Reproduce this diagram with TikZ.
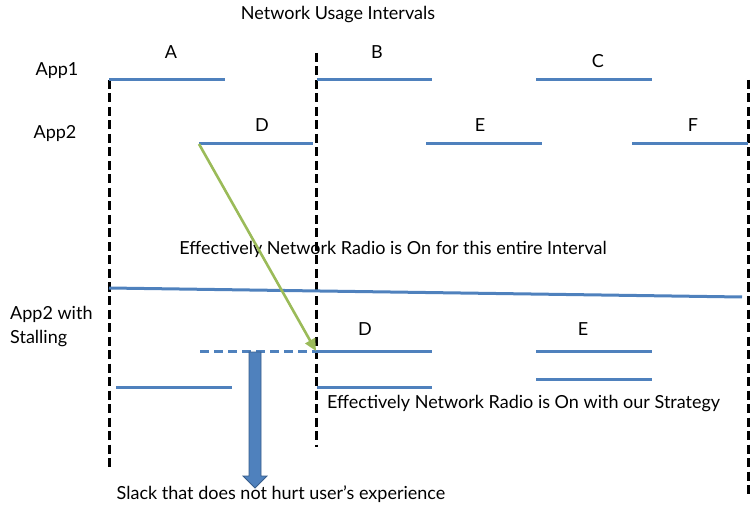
\documentclass[tikz,border=0pt]{standalone}
\usepackage{fontspec}
\setmainfont{Lato}
\usetikzlibrary{arrows.meta}
\definecolor{intblue}{HTML}{4F81BD}
\definecolor{intgreen}{HTML}{9BBB59}
\definecolor{arrowedge}{HTML}{385D8A}
\tikzset{
  interval/.style={draw=intblue, line width=3pt},
  divider/.style={draw=black, line width=3pt, dash pattern=on 9pt off 4.5pt},
  lbl/.style={font=\fontsize{18}{24}\selectfont, inner sep=0pt},
}
\begin{document}
\begin{tikzpicture}[x=1pt,y=-1pt]
\useasboundingbox (0,0) rectangle (750,505);

% titles and row names
\node[lbl] (title) at (338,15) {Network Usage Intervals};
\node[lbl] (app1) at (57,71) {App1};
\node[lbl] (app2) at (55,134) {App2};
\node[lbl, align=left, anchor=west] (app2s) at (10,327) {App2 with\\Stalling};

% vertical separators
\coordinate (l1) at (109,80);  \coordinate (l2) at (109,470);
\coordinate (m1) at (316,53);  \coordinate (m2) at (316,447);
\coordinate (r1) at (748,80);  \coordinate (r2) at (748,497);
\draw[divider] (l1) -- (l2);
\draw[divider] (m1) -- (m2);
\draw[divider] (r1) -- (r2);

% App1 intervals
\coordinate (a1) at (109,80);  \coordinate (a2) at (225,80);
\coordinate (b1) at (317,80);  \coordinate (b2) at (432,80);
\coordinate (c1) at (536,80);  \coordinate (c2) at (652,80);
\draw[interval] (a1) -- (a2);
\draw[interval] (b1) -- (b2);
\draw[interval] (c1) -- (c2);
\node[lbl] (la) at (171,52) {A};
\node[lbl] (lb) at (377,52) {B};
\node[lbl] (lc) at (598,61) {C};

% App2 intervals
\coordinate (d1) at (199,144); \coordinate (d2) at (313,144);
\coordinate (e1) at (426,144); \coordinate (e2) at (542,144);
\coordinate (f1) at (632,144); \coordinate (f2) at (748,144);
\draw[interval] (d1) -- (d2);
\draw[interval] (e1) -- (e2);
\draw[interval] (f1) -- (f2);
\node[lbl] (ld) at (262,125) {D};
\node[lbl] (le) at (480,125) {E};
\node[lbl] (lf) at (693,125) {F};

% radio on for the whole interval
\node[lbl] (whole) at (393,249) {Effectively Network Radio is On for this entire Interval};
\coordinate (w1) at (109,288); \coordinate (w2) at (742,297);
\draw[interval] (w1) -- (w2);

% App2 with stalling
\coordinate (s0) at (200,351); \coordinate (s1) at (316,351);
\coordinate (s2) at (432,351);
\coordinate (t1) at (536,351); \coordinate (t2) at (652,351);
\draw[interval, dash pattern=on 9pt off 5pt] (s0) -- (s1);
\draw[interval] (s1) -- (s2);
\draw[interval] (t1) -- (t2);
\node[lbl] (sd) at (365,329) {D};
\node[lbl] (se) at (583,329) {E};

% shift of D
\draw[draw=intgreen, line width=2.6pt, -{Triangle[length=12pt,width=11pt]}] (d1) -- (s1);

% radio on with the strategy
\coordinate (u1) at (116,387); \coordinate (u2) at (232,387);
\coordinate (v1) at (317,387); \coordinate (v2) at (432,387);
\coordinate (x1) at (536,379); \coordinate (x2) at (652,379);
\draw[interval] (u1) -- (u2);
\draw[interval] (v1) -- (v2);
\draw[interval] (x1) -- (x2);
\node[lbl, anchor=west] (strat) at (327,404) {Effectively Network Radio is On with our Strategy};

% slack arrow
\fill[intblue, draw=arrowedge, line width=0.8pt]
  (249,352) -- (261,352) -- (261,476) -- (267,476) -- (255,488)
  -- (243,476) -- (249,476) -- cycle;
\node[lbl] (slack) at (281,494) {Slack that does not hurt user’s experience};
\end{tikzpicture}
\end{document}
